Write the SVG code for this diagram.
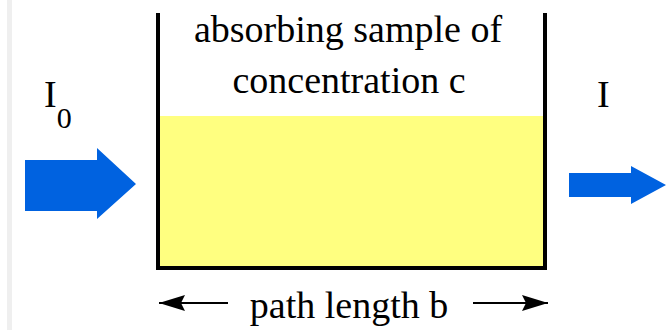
<svg xmlns="http://www.w3.org/2000/svg" width="666" height="330" viewBox="0 0 666 330">
  <style>
    .t { font-family: "Liberation Serif", "Times New Roman", serif; font-size: 38px; fill: #000; }
    .beam { fill: #0062E0; }
    .dim { stroke: #000; stroke-width: 2; fill: none; }
  </style>
  <defs>
    <marker id="ah" viewBox="0 0 26 18" refX="26" refY="9" markerWidth="26" markerHeight="18" markerUnits="userSpaceOnUse" orient="auto-start-reverse">
      <path d="M0,1 L26,9 L0,17 L4,9 Z" fill="#000"/>
    </marker>
  </defs>
  <rect width="666" height="330" fill="#fff"/>
  <rect x="7" y="0" width="5" height="330" fill="#efefef"/>

  <g id="sample">
    <rect x="160" y="116" width="384" height="150" fill="#FFFF80"/>
    <path d="M158,13 V268 H545 V13" fill="none" stroke="#000" stroke-width="4"/>
    <text class="t" x="348" y="42" text-anchor="middle">absorbing sample of</text>
    <text class="t" x="349" y="93" text-anchor="middle">concentration c</text>
  </g>

  <g id="incident">
    <polygon class="beam" points="25,160 97,160 97,148 136,184 97,219 97,211 25,211"/>
    <text class="t" x="44" y="107">I<tspan font-size="30" dy="21">0</tspan></text>
  </g>

  <g id="transmitted">
    <polygon class="beam" points="569,173 631,173 631,166 666,185 631,204 631,197 569,197"/>
    <text class="t" x="597" y="107">I</text>
  </g>

  <g id="connectors">
    <line class="dim" x1="228" y1="303" x2="159" y2="303" marker-end="url(#ah)"/>
    <line class="dim" x1="473" y1="303" x2="548" y2="303" marker-end="url(#ah)"/>
  </g>

  <g id="pathlength">
    <text class="t" x="349" y="318" text-anchor="middle">path length b</text>
  </g>
</svg>
